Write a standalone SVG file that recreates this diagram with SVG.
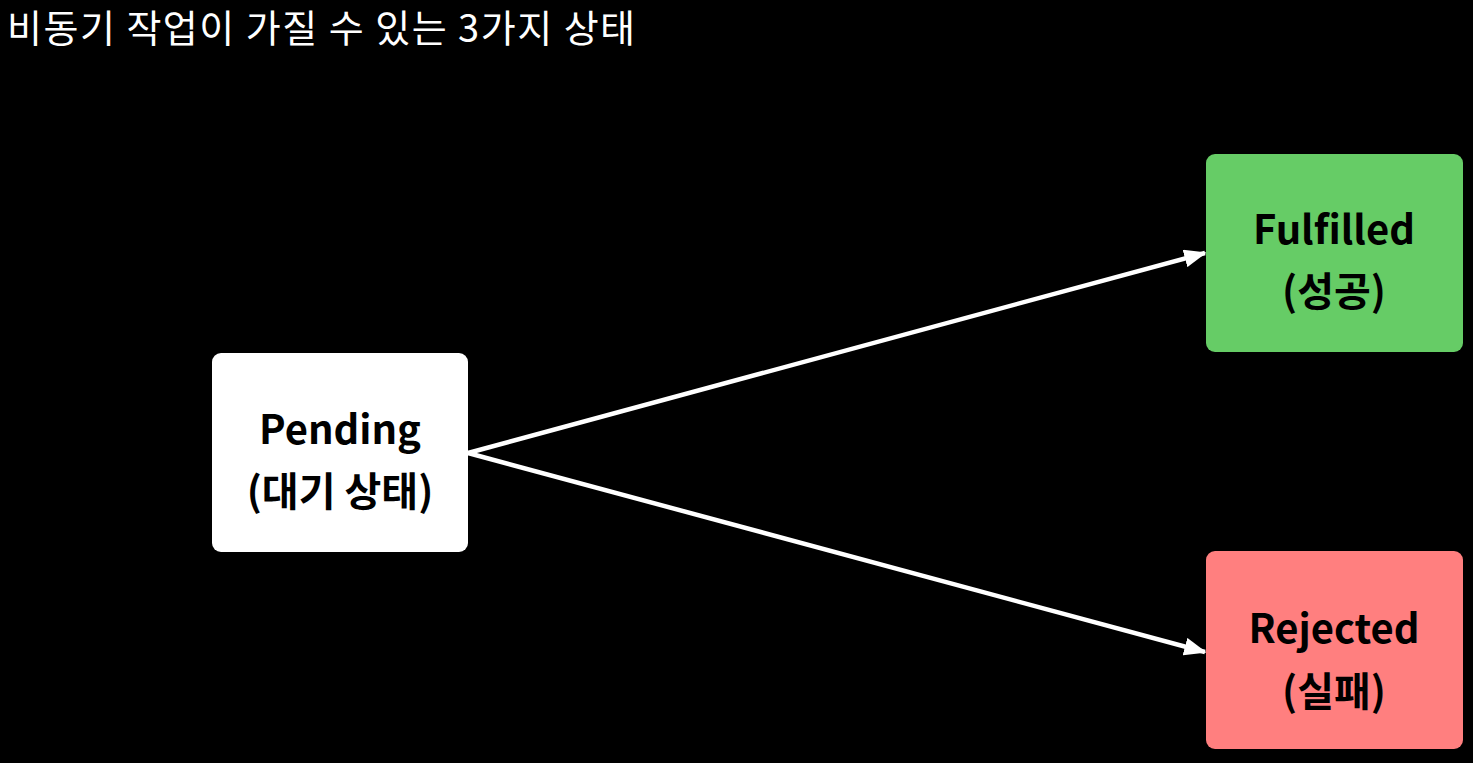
<svg xmlns="http://www.w3.org/2000/svg" width="1473" height="763" viewBox="0 0 1473 763">
<defs>
<style>
.title{font-family:"Noto Sans CJK KR","Noto Sans",sans-serif;font-size:38px;letter-spacing:1.5px;fill:#ffffff;}
.lbl{font-family:"Noto Sans CJK KR","Noto Sans",sans-serif;font-size:40px;font-weight:bold;fill:#000000;text-anchor:middle;}
.edge{stroke:#ffffff;stroke-width:4.5;fill:none;}
</style>
<marker id="arr" markerWidth="5" markerHeight="4" refX="4.6" refY="2" orient="auto" markerUnits="strokeWidth" viewBox="0 0 5 4">
<path d="M0,0 L5,2 L0,4 Z" fill="#ffffff"/>
</marker>
</defs>
<rect x="0" y="0" width="1473" height="763" fill="#000000"/>
<text class="title" x="7" y="42">비동기 작업이 가질 수 있는 3가지 상태</text>
<g id="connectors">
<line class="edge" x1="468" y1="453" x2="1205" y2="253" marker-end="url(#arr)"/>
<line class="edge" x1="468" y1="453" x2="1205" y2="652" marker-end="url(#arr)"/>
</g>
<g id="pending">
<rect x="212" y="353" width="256" height="199" rx="9" fill="#ffffff"/>
<text class="lbl" x="340" y="444">Pending</text>
<text class="lbl" x="340" y="506">(대기 상태)</text>
</g>
<g id="fulfilled">
<rect x="1206" y="154" width="257" height="198" rx="9" fill="#66cc66"/>
<text class="lbl" x="1334" y="244">Fulfilled</text>
<text class="lbl" x="1334" y="306">(성공)</text>
</g>
<g id="rejected">
<rect x="1206" y="551" width="257" height="198" rx="9" fill="#ff7f7f"/>
<text class="lbl" x="1334" y="643">Rejected</text>
<text class="lbl" x="1334" y="706">(실패)</text>
</g>
</svg>
